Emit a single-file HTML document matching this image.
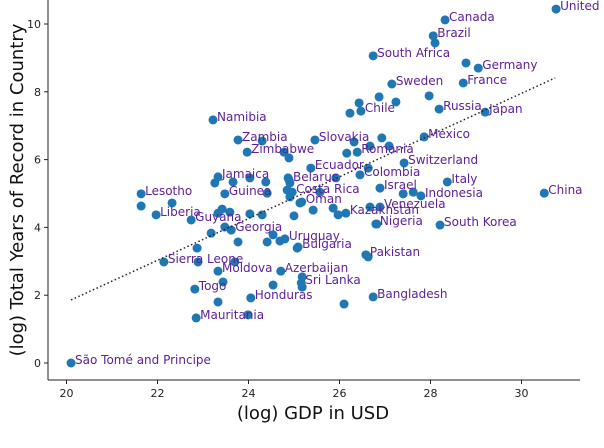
<!DOCTYPE html>
<html><head><meta charset="utf-8"><style>
body{margin:0;background:#fff;width:604px;height:448px;overflow:hidden}
svg{display:block;font-family:"DejaVu Sans","Liberation Sans",sans-serif}
</style></head><body>
<svg id="chart" width="604" height="448" viewBox="0 0 604 448"></svg>
<script>
const labelNames=["São Tomé and Principe","Lesotho","Liberia","Guyana","Sierra Leone","Togo","Mauritania","Moldova","Georgia","Namibia","Zambia","Zimbabwe","Jamaica","Guinea","Honduras","Azerbaijan","Uruguay","Bulgaria","Sri Lanka","Belarus","Costa Rica","Oman","Ecuador","Slovakia","Kazakhstan","Romania","Colombia","Chile","South Africa","Pakistan","Bangladesh","Nigeria","Venezuela","Israel","Sweden","Indonesia","Switzerland","Mexico","Russia","Brazil","Canada","South Korea","Italy","Germany","France","Japan","China","United States"];
const labelGdp=[20.1,21.64,21.97,22.74,22.14,22.82,22.85,23.33,23.62,23.22,23.77,23.97,23.33,23.48,24.05,24.71,24.8,25.09,25.16,24.89,24.96,25.17,25.37,25.46,26.14,26.39,26.45,26.47,26.74,26.58,26.74,26.8,26.89,26.89,27.15,27.79,27.42,27.86,28.19,28.06,28.32,28.21,28.37,29.05,28.72,29.2,30.5,30.76];
const labelYears=[0,4.99,4.37,4.22,2.98,2.18,1.33,2.71,3.92,7.17,6.58,6.22,5.49,4.99,1.92,2.71,3.66,3.42,2.36,5.4,5.04,4.75,5.75,6.58,4.42,6.22,5.55,7.43,9.06,3.19,1.95,4.1,4.6,5.16,8.23,4.93,5.9,6.67,7.49,9.65,10.12,4.07,5.34,8.7,8.26,7.4,5.01,10.44];
const otherGdp=[21.64,22.32,23.18,23.33,23.42,23.59,23.48,24.03,24.3,23.77,24.41,24.54,24.69,25.07,22.87,22.89,23.7,23.44,23.33,23.99,24.54,25.18,25.18,25.0,23.26,23.66,24.03,24.38,24.3,24.78,24.89,24.87,24.91,24.85,24.91,24.41,25.57,25.13,25.42,25.86,25.97,26.67,26.1,26.63,26.82,27.4,27.62,25.92,26.63,26.16,26.67,26.93,27.09,26.32,26.23,26.43,26.87,27.24,27.97,28.78,28.1];
const otherYears=[4.63,4.72,3.83,4.42,4.54,4.45,4.01,4.4,4.37,3.57,3.57,3.78,3.6,3.39,3.39,2.98,2.98,2.39,1.8,1.42,2.3,2.54,2.24,4.34,5.31,5.34,5.46,5.34,6.55,6.22,6.05,5.46,5.31,5.1,4.9,5.01,5.04,4.72,4.51,4.57,4.37,4.6,1.74,3.13,4.1,4.99,5.04,5.46,5.75,6.19,6.4,6.64,6.4,6.52,7.37,7.67,7.85,7.7,7.88,8.85,9.44];
const trendX=[20.1,30.74];
const trendY=[1.86,8.41];
const xTicks=[20,22,24,26,28,30];
const yTicks=[0,2,4,6,8,10];

const NS="http://www.w3.org/2000/svg";
const svg=document.getElementById('chart');
const sx=v=>66.5+(v-20)*45.5;
const sy=v=>363-v*33.9;
function mk(tag,attrs,parent){const e=document.createElementNS(NS,tag);for(const k in attrs)e.setAttribute(k,attrs[k]);(parent||svg).appendChild(e);return e;}

// axes
let a=mk('line',{x1:48,y1:0,x2:48,y2:380,stroke:'#222','stroke-width':1});


a=mk('line',{x1:48,y1:380,x2:580,y2:380,stroke:'#222','stroke-width':1});


xTicks.forEach(t=>{
  const tk=mk('line',{x1:sx(t),y1:380,x2:sx(t),y2:384,stroke:'#222'});
  
  
  const tl=mk('text',{x:sx(t),y:397,'text-anchor':'middle','font-size':11,fill:'#222'});
  tl.textContent=t;
  
  
});
yTicks.forEach(t=>{
  const tk=mk('line',{x1:44,y1:sy(t),x2:48,y2:sy(t),stroke:'#222'});
  
  
  const tl=mk('text',{x:41,y:sy(t)+4,'text-anchor':'end','font-size':11,fill:'#222'});
  tl.textContent=t;
  
  
});
let xt=mk('text',{x:313,y:419,'text-anchor':'middle','font-size':18,fill:'#111'});
xt.textContent='(log) GDP in USD';


let yt=mk('text',{x:0,y:0,'text-anchor':'middle','font-size':18,fill:'#111',transform:'translate(23,190) rotate(-90)'});
yt.textContent='(log) Total Years of Record in Country';



// points
otherGdp.forEach((g,i)=>{
  const c=mk('circle',{cx:sx(g),cy:sy(otherYears[i]),r:4.5,fill:'#1f77b4'});
  
  
});
labelGdp.forEach((g,i)=>{
  const c=mk('circle',{cx:sx(g),cy:sy(labelYears[i]),r:4.5,fill:'#1f77b4'});
  
  
});
// trend
let tr=mk('line',{x1:sx(trendX[0]),y1:sy(trendY[0]),x2:sx(trendX[1]),y2:sy(trendY[1]),stroke:'#222','stroke-width':1.5,'stroke-dasharray':'1.5,2.5'});


// labels
labelGdp.forEach((g,i)=>{
  const t=mk('text',{x:sx(g)+4,y:sy(labelYears[i])+1,'font-size':12,fill:'#5e2196'});
  t.textContent=labelNames[i];
  
  
});
</script>
</body></html>
